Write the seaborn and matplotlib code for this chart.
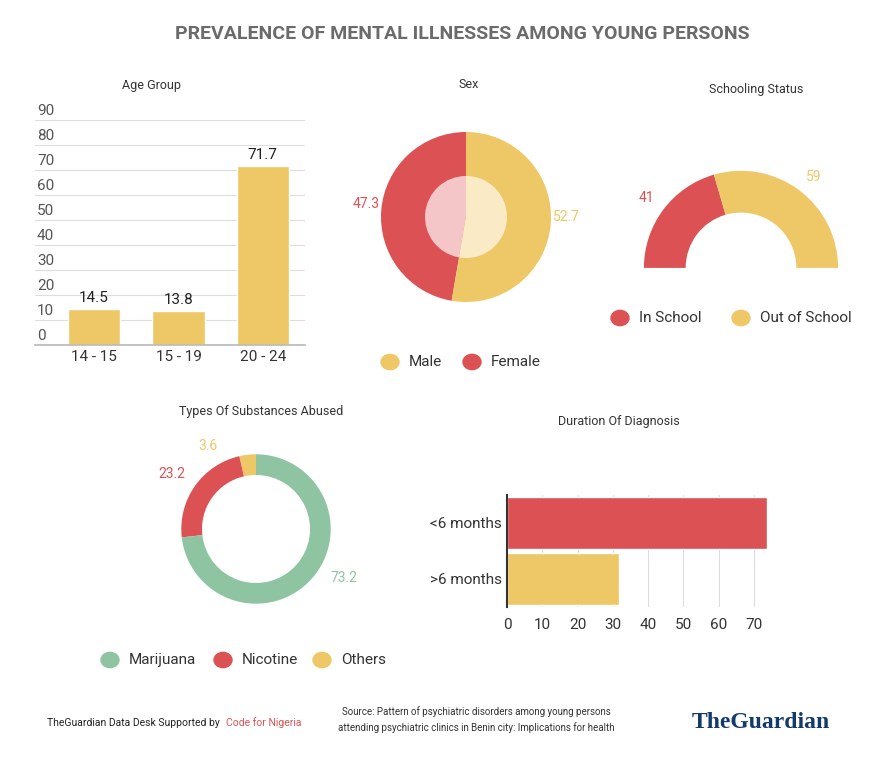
import matplotlib
matplotlib.use("Agg")
import matplotlib.pyplot as plt
import matplotlib.transforms as mt
import seaborn as sns
import pandas as pd
from matplotlib.patches import Circle

sns.set_theme(style="white")
plt.rcParams['font.family'] = ['Roboto', 'DejaVu Sans']

RED = "#dc5254"; YEL = "#eec866"; GRN = "#8fc4a3"; PRED = "#f4c6c7"; PYEL = "#faebc6"
GREY = "#555555"

age_groups = ["14 - 15", "15 - 19", "20 - 24"]
age_values = [14.5, 13.8, 71.7]
sex_labels = ["Female", "Male"]
sex_values = [47.3, 52.7]
school_labels = ["In School", "Out of School"]
school_values = [41, 59]
subst_labels = ["Others", "Nicotine", "Marijuana"]
subst_values = [3.6, 23.2, 73.2]
dur_labels = ["<6 months", ">6 months"]
dur_values = [73.7, 31.7]

W, H = 894, 759
fig = plt.figure(figsize=(W/100, H/100), dpi=100)
fig.patch.set_facecolor("white")

def ax_px(x0, y0, x1, y1):
    return fig.add_axes([x0/W, 1-y1/H, (x1-x0)/W, (y1-y0)/H])

def ftext(x, y, s, **kw):
    fig.text(x/W, 1-y/H, s, **kw)

ftext(462, 34, "PREVALENCE OF MENTAL ILLNESSES AMONG YOUNG PERSONS", ha="center", va="center",
      fontsize=14, fontweight="bold", color="#6b6b6b")

# Age group
ax = ax_px(35, 120, 305, 345)
df = pd.DataFrame({"g": age_groups, "v": age_values})
sns.barplot(data=df, x="g", y="v", color=YEL, width=0.62, ax=ax, saturation=1)
ax.set_ylim(0, 90)
ax.set_yticks(range(0, 91, 10))
ax.yaxis.grid(True, color="#dddddd", lw=0.8)
ax.set_axisbelow(True)
for lab in ax.get_yticklabels():
    lab.set_verticalalignment("bottom")
    lab.set_horizontalalignment("left")
ax.tick_params(axis="y", labelsize=11, colors=GREY, length=0)
ax.tick_params(axis="x", labelsize=11, colors="#333333", length=0)
ax.set_xlabel(""); ax.set_ylabel("")
for s in ["top", "right", "left"]:
    ax.spines[s].set_visible(False)
ax.spines["bottom"].set_color("#bbbbbb")
for i, v in enumerate(age_values):
    ax.text(i, v + 1.5, f"{v}", ha="center", va="bottom", fontsize=11, color="#222222")
off = mt.ScaledTranslation(0.02, 0.02, fig.dpi_scale_trans)
for t in ax.get_yticklabels():
    t.set_transform(ax.get_yaxis_transform(which="tick1") + off)
ax.set_xlim(-0.7, 2.5)
ftext(152, 85, "Age Group", ha="center", va="center", fontsize=9, color="#333333")

# Sex pie
ax2 = ax_px(366, 117, 566, 317)
ax2.pie(sex_values, colors=[RED, YEL], startangle=90, radius=0.85, counterclock=True,
        wedgeprops=dict(linewidth=0))
ax2.pie(sex_values, colors=[PRED, PYEL], startangle=90, radius=0.41, counterclock=True,
        wedgeprops=dict(linewidth=0))
ax2.set_xlim(-1, 1); ax2.set_ylim(-1, 1)
ax2.text(-1.0, 0.13, f"{sex_values[0]}", color=RED, fontsize=10, ha="center", va="center")
ax2.text(1.0, 0.0, f"{sex_values[1]}", color=YEL, fontsize=10, ha="center", va="center")
ftext(469, 85, "Sex", ha="center", va="center", fontsize=9, color="#333333")
for (x, c, l) in [(390, YEL, "Male"), (472, RED, "Female")]:
    fig.patches.append(Circle((x/W, 1-362/H), 9/W, color=c, transform=fig.transFigure))
    ftext(x + 19, 362, l, va="center", fontsize=11, color="#333333")

# Schooling half donut
ax3 = ax_px(641, 161, 841, 268)
vals = school_values + [sum(school_values)]
ax3.pie(vals, colors=[RED, YEL, "none"], startangle=180, counterclock=False, radius=1,
        wedgeprops=dict(width=0.43, linewidth=0))
ax3.set_xlim(-1.03, 1.03); ax3.set_ylim(0, 1.1)
ftext(646, 198, "41", color=RED, fontsize=10, ha="center", va="center")
ftext(814, 177, "59", color=YEL, fontsize=10, ha="center", va="center")
ftext(756, 89, "Schooling Status", ha="center", va="center", fontsize=9, color="#333333")
for (x, c, l) in [(620, RED, "In School"), (741, YEL, "Out of School")]:
    fig.patches.append(Circle((x/W, 1-318/H), 9/W, color=c, transform=fig.transFigure))
    ftext(x + 19, 318, l, va="center", fontsize=11, color="#333333")

# Substances donut
ax4 = ax_px(166, 439, 346, 619)
ax4.pie(subst_values, colors=[YEL, RED, GRN], startangle=90, counterclock=True, radius=0.83,
        wedgeprops=dict(width=0.23, linewidth=0))
ax4.set_xlim(-1, 1); ax4.set_ylim(-1, 1)
ftext(208, 446, "3.6", color=YEL, fontsize=10, ha="center", va="center")
ftext(172, 474, "23.2", color=RED, fontsize=10, ha="center", va="center")
ftext(344, 578, "73.2", color=GRN, fontsize=10, ha="center", va="center")
ftext(261, 411, "Types Of Substances Abused", ha="center", va="center", fontsize=9, color="#333333")
for (x, c, l) in [(110, GRN, "Marijuana"), (223, RED, "Nicotine"), (322, YEL, "Others")]:
    fig.patches.append(Circle((x/W, 1-660/H), 9/W, color=c, transform=fig.transFigure))
    ftext(x + 19, 660, l, va="center", fontsize=11, color="#333333")

# Duration bars
ax5 = ax_px(507, 495, 775, 607)
dd = pd.DataFrame({"d": dur_labels, "v": dur_values})
sns.barplot(data=dd, y="d", x="v", hue="d", palette=[RED, YEL], orient="h", width=0.92,
            ax=ax5, saturation=1, legend=False)
ax5.set_xlim(0, 76)
ax5.set_xticks(range(0, 71, 10))
ax5.xaxis.grid(True, color="#dddddd", lw=0.8)
ax5.set_axisbelow(True)
ax5.tick_params(axis="both", labelsize=11, colors="#333333", length=0)
ax5.tick_params(axis="x", pad=8)
ax5.set_xlabel(""); ax5.set_ylabel("")
for s in ["top", "right", "bottom"]:
    ax5.spines[s].set_visible(False)
ax5.spines["left"].set_color("#333333"); ax5.spines["left"].set_linewidth(1.5)
ftext(619, 421, "Duration Of Diagnosis", ha="center", va="center", fontsize=9, color="#333333")

# Footer
ftext(47, 723, "TheGuardian Data Desk Supported by", fontsize=7.5, color="#222222", va="center")
ftext(226, 723, "Code for Nigeria", fontsize=7.5, color=RED, va="center")
ftext(476, 712, "Source: Pattern of psychiatric disorders among young persons", fontsize=7, color="#333333", ha="center", va="center")
ftext(476, 728, "attending psychiatric clinics in Benin city: Implications for health", fontsize=7, color="#333333", ha="center", va="center")
ftext(692, 722, "TheGuardian", fontsize=17, fontweight="bold", color="#123a6a", va="center",
      family=["Liberation Serif", "DejaVu Serif"])

fig.savefig("out.png", dpi=100, facecolor="white")
